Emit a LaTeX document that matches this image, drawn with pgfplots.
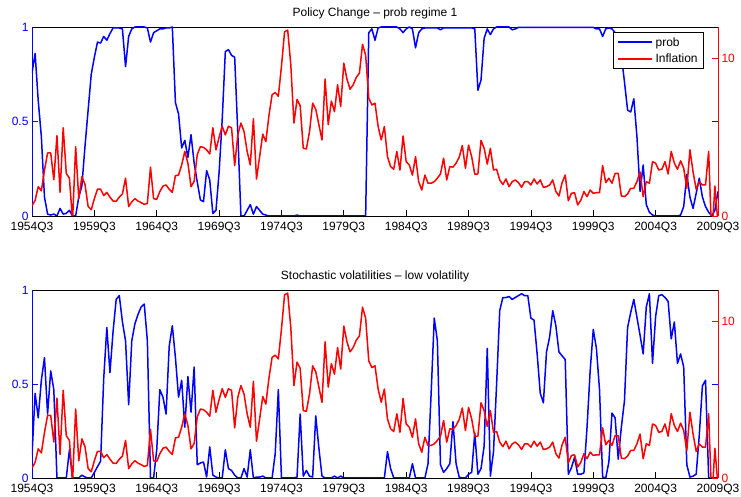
\documentclass[border=0pt]{standalone}
\usepackage{fontspec}
\setmainfont{Liberation Sans}
\usepackage{pgfplots}
\usepackage{pgfplotstable}
\pgfplotsset{compat=1.18}

\definecolor{mblue}{RGB}{0,0,255}
\definecolor{mred}{RGB}{255,0,0}

% t = quarters since 1954Q3; infl = inflation (right axis);
% ptop = prob regime 1; plow = prob of low volatility
\pgfplotstableread{
t infl ptop plow
0 0.64 0.756 0.12
1 1.0 0.86 0.45
2 1.86 0.61 0.32
3 1.6 0.42 0.52
4 2.9 0.10 0.64
5 4.0 0.01 0.34
6 4.0 0.005 0.57
7 2.3 0.01 0.47
8 5.1 0 0
9 1.5 0.04 0
10 5.6 0.01 0
11 2.7 0.014 0
12 2.4 0.03 0.15
13 -0.3 0 0
14 4.4 0 0
15 1.1 0.1 0
16 2.5 0.16 0.015
17 2.0 0.37 0.005
18 0.6 0.56 0
19 0.4 0.75 0
20 1.1 0.84 0.03
21 1.7 0.92 0.06
22 1.7 0.915 0.09
23 1.3 0.95 0.53
24 1.5 0.93 0.80
25 1.2 0.965 0.56
26 0.95 0.995 0.78
27 0.93 0.995 0.95
28 1.2 0.995 0.97
29 1.4 0.99 0.83
30 2.4 0.79 0.73
31 0.6 0.95 0.39
32 0.9 0.99 0.73
33 1.1 1 0.82
34 0.95 1 0.87
35 0.85 1 0.91
36 0.74 1 0.925
37 0.8 0.995 0.73
38 3.1 0.92 0
39 1.1 0.97 0
40 1.06 0.98 0.15
41 1.55 0.99 0.47
42 1.9 0.99 0.43
43 1.97 0.995 0.34
44 1.7 0.995 0.70
45 1.5 1 0.81
46 2.56 0.6 0.64
47 2.6 0.54 0.43
48 3.24 0.36 0.52
49 4.1 0.4 0.27
50 3.35 0.31 0.54
51 1.86 0.43 0.35
52 2.2 0.28 0.59
53 3.9 0.18 0.07
54 4.4 0.085 0.08
55 4.36 0.076 0.085
56 4.2 0.24 0.005
57 3.94 0.19 0.165
58 5.6 0.014 0.015
59 4.2 0.03 0.005
60 5.0 0.23 0
61 5.7 0.51 0
62 5.15 0.87 0.15
63 5.7 0.88 0.05
64 5.6 0.85 0.04
65 3.2 0.84 0.015
66 5.15 0.44 0
67 5.9 0 0
68 5.36 0 0.05
69 4.1 0.03 0.005
70 3.24 0.06 0.15
71 6.17 0.01 0
72 2.35 0.05 0.005
73 3.77 0.03 0.005
74 5.2 0.01 0.01
75 4.72 0.005 0
76 6.4 0 0
77 7.7 0 0
78 7.84 0 0.13
79 7.6 0 0.47
80 9.5 0 0
81 11.7 0 0
82 11.8 0 0
83 9.6 0 0
84 5.9 0 0
85 7.4 0.005 0.005
86 7.0 0 0.34
87 4.3 0 0.01
88 4.26 0 0.04
89 5.36 0 0.01
90 7.16 0 0.005
91 6.78 0 0.33
92 5.8 0 0.16
93 4.83 0 0.01
94 8.7 0 0
95 5.8 0 0
96 7.3 0 0
97 6.63 0 0.01
98 8.33 0 0
99 6.95 0 0.01
100 9.7 0 0
101 8.7 0 0
102 8.05 0 0
103 8.33 0 0
104 8.8 0 0
105 9.07 0 0
106 10.9 0 0
107 10.2 0 0
108 7.48 0.97 0
109 7.05 0.99 0
110 7.16 0.93 0
111 5.68 0.995 0
112 4.83 1 0
113 5.68 1 0
114 3.77 1 0.14
115 3.14 1 0.05
116 2.97 1 0
117 4.1 1 0
118 2.92 0.99 0
119 5.08 0.97 0
120 3.45 0.99 0
121 3.24 1 0
122 2.6 0.99 0.076
123 3.77 0.89 0
124 2.18 0.97 0
125 1.65 0.99 0
126 2.6 0.995 0
127 2.08 0.995 0.076
128 2.08 0.995 0.45
129 2.18 0.995 0.85
130 2.4 0.995 0.73
131 2.67 0.985 0.07
132 3.67 0.995 0.03
133 2.29 0.995 0.05
134 3.14 0.995 0.076
135 3.1 0.995 0.3
136 3.35 0.995 0.076
137 3.73 0.995 0.005
138 4.47 0.995 0
139 3.03 0.995 0
140 4.5 0.995 0.02
141 3.77 0.995 0.03
142 2.65 0.99 0.24
143 2.67 0.665 0.02
144 4.8 0.72 0.05
145 4.3 0.94 0.17
146 3.3 0.99 0.69
147 4.3 0.96 0.01
148 2.92 0.99 0.14
149 2.97 1 0.5
150 2.29 1 0.89
151 2.0 1 0.96
152 2.35 1 0.96
153 1.86 1 0.965
154 2.18 0.985 0.95
155 2.29 0.99 0.96
156 2.12 0.998 0.97
157 1.82 0.998 0.98
158 2.18 0.998 0.97
159 2.18 0.998 0.97
160 1.97 0.998 0.85
161 2.35 0.998 0.84
162 2.03 0.998 0.66
163 2.29 0.998 0.45
164 1.82 0.998 0.4
165 1.86 0.998 0.67
166 1.97 0.998 0.75
167 2.29 0.998 0.89
168 1.55 0.998 0.81
169 1.27 0.998 0.67
170 2.12 0.998 0.65
171 2.6 0.998 0.63
172 0.97 0.998 0.02
173 1.44 0.998 0.055
174 1.48 0.998 0.11
175 0.7 0.998 0.02
176 1.0 0.998 0.02
177 1.55 0.998 0.027
178 1.23 0.998 0.27
179 1.65 0.998 0.57
180 1.44 0.998 0.79
181 1.48 0.99 0.69
182 1.48 0.99 0.47
183 3.2 0.95 0.005
184 2.12 0.99 0
185 2.4 0.995 0.085
186 2.08 0.99 0.345
187 2.71 0.97 0.32
188 2.71 0.92 0.10
189 1.27 0.85 0.27
190 1.23 0.71 0.41
191 1.4 0.56 0.80
192 1.76 0.55 0.88
193 1.76 0.62 0.95
194 2.18 0.42 0.855
195 2.8 0.13 0.76
196 1.23 0.27 0.66
197 2.18 0.06 0.91
198 2.08 0.02 0.98
199 3.45 0.005 0.61
200 3.35 0 0.86
201 2.92 0 0.97
202 2.97 0 0.975
203 3.45 0 0.96
204 2.67 0 0.94
205 4.1 0 0.74
206 3.35 0 0.83
207 2.97 0 0.61
208 3.5 0.005 0.66
209 3.03 0.05 0.59
210 1.76 0.22 0.07
211 4.2 0.1 0.005
212 2.8 0.04 0.01
213 1.7 0.12 0.02
214 2.18 0.2 0.23
215 1.97 0.1 0.49
216 1.97 0.05 0.52
217 4.1 0.02 0
218 -1.5 0 0
219 1.9 0.03 0
220 -0.5 0.13 0
}\series

\pgfplotsset{
  panel/.style={
    scale only axis, width=686pt, xmin=0, xmax=220,
    clip=true, anchor=south west,
    tick align=inside, major tick length=6pt,
    /pgf/number format/assume math mode=true,
    every tick label/.append style={font=\fontsize{12}{14}\selectfont},
    axis line style={line width=0.8pt},
    every tick/.style={line width=0.8pt},
  },
  leftax/.style={
    panel,
    axis x line*=box, axis y line*=left,
    xtick pos=bottom,
    ymin=0, ymax=1, ytick={0,0.5,1}, yticklabels={0,0.5,1},
    x axis line style={black}, y axis line style={mblue},
    ytick style={mblue}, yticklabel style={mblue},
    xtick={0,20,...,220},
    xticklabels={1954Q3,1959Q3,1964Q3,1969Q3,1974Q3,1979Q3,1984Q3,1989Q3,1994Q3,1999Q3,2004Q3,2009Q3},
    xticklabel style={black, yshift=-3pt},
    title style={font=\fontsize{12}{14}\selectfont, yshift=-2pt},
  },
  rightax/.style={
    panel,
    axis x line=none, axis y line*=right,
    ymin=0, ymax=12, ytick={0,10},
    y axis line style={mred},
    ytick style={mred}, yticklabel style={mred},
    extra y ticks={6}, extra y tick labels={},
    extra y tick style={ytick style={mblue}},
  },
  probline/.style={mblue, line width=1.5pt, line join=round},
  inflline/.style={mred, line width=1.5pt, line join=round},
}

\begin{document}
\begin{tikzpicture}
% upper panel
\begin{axis}[leftax, at={(32pt,281pt)}, height=189pt,
  title={Policy Change -- prob regime 1}]
  \addplot[probline] table[x=t, y=ptop] {\series};
\end{axis}
\begin{axis}[rightax, at={(32pt,281pt)}, height=189pt,
  legend style={at={(0.9796,0.9735)}, anchor=north east, draw=black,
    line width=0.8pt, fill=white, font=\fontsize{12}{14}\selectfont,
    inner xsep=3pt, inner ysep=3pt, row sep=2pt,
    nodes={inner xsep=3pt}},
  legend cell align=left,
  legend image code/.code={\draw[#1, line width=2pt] (0pt,0pt) -- (34pt,0pt);}]
  \addlegendimage{probline}
  \addlegendentry{prob}
  \addplot[inflline] table[x=t, y=infl] {\series};
  \addlegendentry{Inflation}
\end{axis}

% lower panel
\begin{axis}[leftax, at={(32pt,19pt)}, height=188pt,
  title={Stochastic volatilities -- low volatility}]
  \addplot[probline] table[x=t, y=plow] {\series};
\end{axis}
\begin{axis}[rightax, at={(32pt,19pt)}, height=188pt]
  \addplot[inflline] table[x=t, y=infl] {\series};
\end{axis}

\pgfresetboundingbox
\path[use as bounding box] (0,0) rectangle (741pt,497pt);
\end{tikzpicture}
\end{document}
